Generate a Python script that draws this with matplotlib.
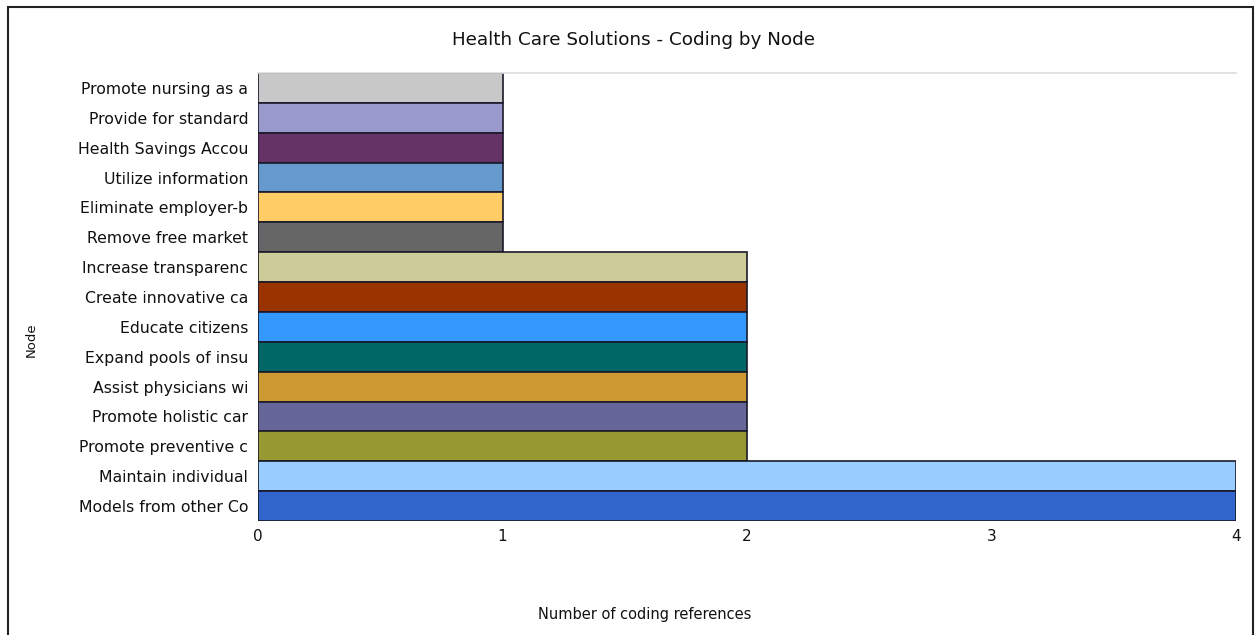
import matplotlib
matplotlib.use("Agg")
import matplotlib.pyplot as plt
from matplotlib.patches import Rectangle

categories = [
    "Promote nursing as a",
    "Provide for standard",
    "Health Savings Accou",
    "Utilize information ",
    "Eliminate employer-b",
    "Remove free market ",
    "Increase transparenc",
    "Create innovative ca",
    "Educate citizens ",
    "Expand pools of insu",
    "Assist physicians wi",
    "Promote holistic car",
    "Promote preventive c",
    "Maintain individual ",
    "Models from other Co",
]
values = [1, 1, 1, 1, 1, 1, 2, 2, 2, 2, 2, 2, 2, 4, 4]
colors = ["#C8C8C8", "#9999CC", "#663366", "#6699CC", "#FFCC66", "#666666",
          "#CCCC99", "#993300", "#3399FF", "#006666", "#CC9933", "#666699",
          "#999933", "#99CCFF", "#3366CC"]
xticks = [0, 1, 2, 3, 4]

W, H = 1256, 635
fig = plt.figure(figsize=(W / 100, H / 100), dpi=100)
fig.patch.set_facecolor("white")
ax = fig.add_axes([258 / W, 1 - 521 / H, (1236 - 258) / W, (521 - 73) / H])

ypos = list(range(len(categories)))
ax.barh(ypos, values, height=1.0, color=colors, edgecolor="#1a1a2a", linewidth=1.2)
ax.set_ylim(len(categories) - 0.5, -0.5)
ax.set_xlim(0, 4)
ax.set_yticks(ypos)
ax.set_yticklabels([c.strip() for c in categories], fontsize=11.3, color="#111111")
ax.set_xticks(xticks)
ax.set_xticklabels([str(t) for t in xticks], fontsize=11, color="#111111")
ax.tick_params(axis="both", length=0)
ax.tick_params(axis="y", pad=7)
ax.tick_params(axis="x", pad=6)
for s in ["left", "right", "bottom"]:
    ax.spines[s].set_visible(False)
ax.spines["top"].set_color("#dddddd")
ax.spines["top"].set_linewidth(1.2)

fig.text(633 / W, 1 - 40 / H, "Health Care Solutions - Coding by Node", ha="center", va="center", fontsize=13.2, color="#111111")
fig.text(645 / W, 1 - 615 / H, "Number of coding references", ha="center", va="center", fontsize=10.5, color="#111111")
fig.text(31 / W, 1 - 340 / H, "Node", ha="center", va="center", rotation=90, fontsize=9.5, color="#111111")

fig.patches.append(Rectangle((8 / W, -0.05), (1253 - 8) / W, 1 - 7 / H + 0.05,
                             transform=fig.transFigure, fill=False,
                             edgecolor="#222222", linewidth=1.5))

fig.savefig("out.png", dpi=100)
